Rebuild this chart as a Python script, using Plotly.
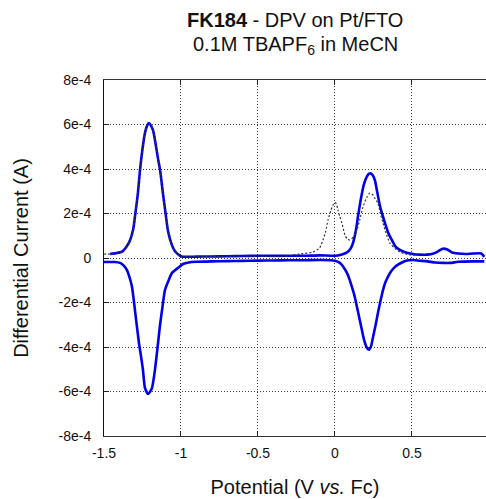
import plotly.graph_objects as go

# Forward scan (upper blue trace), current in units of 1e-4 A
forward_x = [-1.46, -1.42, -1.38, -1.35, -1.33, -1.31, -1.30, -1.28, -1.266, -1.25, -1.234, -1.22,
             -1.208, -1.195, -1.18, -1.169, -1.15, -1.136, -1.117, -1.10, -1.084, -1.06, -1.039,
             -1.01, -0.99, -0.9, -0.8, -0.7, -0.6, -0.5, -0.4, -0.3, -0.2, -0.1, 0.0, 0.04, 0.078,
             0.10, 0.117, 0.135, 0.149, 0.162, 0.175, 0.19, 0.208, 0.222, 0.234, 0.247, 0.260,
             0.275, 0.292, 0.31, 0.325, 0.345, 0.37, 0.395, 0.422, 0.46, 0.506, 0.55, 0.6, 0.64,
             0.67, 0.70, 0.73, 0.76, 0.80, 0.85, 0.90, 0.95, 0.97]
forward_y = [0.18, 0.22, 0.3, 0.55, 0.81, 1.3, 1.8, 2.9, 3.96, 4.9, 5.62, 5.95,
             6.07, 5.95, 5.70, 5.3, 4.5, 3.96, 2.9, 2.0, 1.2, 0.6, 0.3,
             0.12, 0.06, 0.06, 0.07, 0.08, 0.09, 0.1, 0.1, 0.1, 0.1, 0.12, 0.1, 0.15, 0.25,
             0.4, 0.67, 1.2, 1.84, 2.4, 2.9, 3.35, 3.67, 3.79, 3.8, 3.7, 3.48,
             2.95, 2.35, 1.9, 1.57, 1.15, 0.8, 0.5, 0.36, 0.25, 0.18, 0.15, 0.15, 0.2,
             0.3, 0.42, 0.38, 0.25, 0.2, 0.18, 0.2, 0.2, 0.05]

# Reverse scan (lower blue trace)
reverse_x = [0.97, 0.9, 0.8, 0.75, 0.70, 0.65, 0.6, 0.55, 0.506, 0.46, 0.442, 0.415, 0.39, 0.365,
             0.344, 0.327, 0.312, 0.295, 0.279, 0.263, 0.247, 0.235, 0.222, 0.208, 0.19, 0.175,
             0.16, 0.143, 0.127, 0.110, 0.094, 0.078, 0.055, 0.032, 0.0, -0.097, -0.2, -0.3, -0.4,
             -0.5, -0.6, -0.7, -0.8, -0.9, -0.95, -0.987, -1.02, -1.058, -1.08, -1.104, -1.123,
             -1.136, -1.149, -1.169, -1.188, -1.20, -1.214, -1.234, -1.247, -1.26, -1.273, -1.299,
             -1.318, -1.335, -1.351, -1.375, -1.396, -1.43, -1.461, -1.5]
reverse_y = [-0.15, -0.15, -0.17, -0.22, -0.22, -0.2, -0.15, -0.12, -0.09, -0.12, -0.18, -0.28,
             -0.40, -0.6, -0.85, -1.1, -1.44, -1.95, -2.47, -3.05, -3.56, -3.95, -4.12, -4.04,
             -3.7, -3.24, -2.75, -2.20, -1.7, -1.30, -0.95, -0.67, -0.4, -0.22, -0.12, -0.09,
             -0.1, -0.1, -0.11, -0.12, -0.13, -0.14, -0.15, -0.17, -0.2, -0.27, -0.45, -0.67,
             -1.0, -1.44, -2.34, -3.0, -3.82, -5.03, -5.84, -6.0, -6.11, -5.84, -5.03, -4.4,
             -3.82, -2.34, -1.30, -0.85, -0.54, -0.32, -0.22, -0.18, -0.18, -0.18]

# Reference measurement (dotted trace)
reference_x = [-1.5, -1.46, -1.42, -1.38, -1.35, -1.33, -1.31, -1.30, -1.28, -1.266, -1.25, -1.234,
               -1.22, -1.208, -1.195, -1.18, -1.169, -1.15, -1.136, -1.117, -1.10, -1.084, -1.06,
               -1.039, -1.01, -0.99, -0.9, -0.8, -0.7, -0.6, -0.5, -0.36, -0.227, -0.143, -0.10,
               -0.078, -0.06, -0.045, -0.028, -0.013, 0.0, 0.01, 0.019, 0.032, 0.045, 0.065, 0.08,
               0.097, 0.12, 0.143, 0.162, 0.182, 0.205, 0.227, 0.247, 0.262, 0.279, 0.295, 0.312,
               0.335, 0.357, 0.39, 0.422, 0.46, 0.506, 0.55]
reference_y = [0.18, 0.18, 0.22, 0.3, 0.55, 0.81, 1.3, 1.8, 2.9, 3.96, 4.9, 5.62,
               5.95, 6.07, 5.95, 5.70, 5.3, 4.5, 3.96, 2.9, 2.0, 1.2, 0.6,
               0.3, 0.12, 0.06, 0.06, 0.07, 0.08, 0.09, 0.08, 0.06, 0.18, 0.27, 0.45,
               0.81, 1.2, 1.71, 2.1, 2.38, 2.5, 2.42, 2.16, 1.85, 1.57, 1.03, 0.85,
               0.81, 0.95, 1.26, 1.75, 2.29, 2.7, 2.92, 2.83, 2.65, 2.47, 2.0, 1.57,
               1.05, 0.67, 0.42, 0.27, 0.18, 0.13, 0.12]

x_tick_vals = [-1.5, -1, -0.5, 0, 0.5]
x_tick_text = ["-1.5", "-1", "-0.5", "0", "0.5"]
y_tick_vals = [8e-4, 6e-4, 4e-4, 2e-4, 0, -2e-4, -4e-4, -6e-4, -8e-4]
y_tick_text = ["8e-4", "6e-4", "4e-4", "2e-4", "0", "-2e-4", "-4e-4", "-6e-4", "-8e-4"]

title_lines = ["<b>FK184</b> - DPV on Pt/FTO", "0.1M TBAPF<sub>6</sub> in MeCN"]

scale = 1e-4
blue = "#0000e8"
font_family = "Liberation Sans, Arial, sans-serif"

fig = go.Figure()
fig.add_trace(go.Scatter(x=forward_x, y=[v * scale for v in forward_y], mode="lines",
                         line=dict(color=blue, width=2.6, shape="spline", smoothing=0.6),
                         showlegend=False))
fig.add_trace(go.Scatter(x=reverse_x, y=[v * scale for v in reverse_y], mode="lines",
                         line=dict(color=blue, width=2.6, shape="spline", smoothing=0.6),
                         showlegend=False))
fig.add_trace(go.Scatter(x=reference_x, y=[v * scale for v in reference_y], mode="lines",
                         line=dict(color="#333333", width=1.2, dash="2px,2px",
                                   shape="spline", smoothing=0.6),
                         showlegend=False))

# Title lines as annotations (pixel rows ~20 and ~45 of the 499-px page)
plot_top, plot_bottom = 80, 436
for text, row in zip(title_lines, [20, 45]):
    fig.add_annotation(text=text, xref="paper", yref="paper", x=0.5,
                       y=(plot_bottom - row) / (plot_bottom - plot_top),
                       xanchor="center", yanchor="middle", showarrow=False,
                       font=dict(size=20, family=font_family, color="#111111"))

fig.update_layout(
    width=486, height=499,
    margin=dict(l=104, r=0, t=80, b=63),
    paper_bgcolor="white", plot_bgcolor="white",
    font=dict(family=font_family, color="#111111"),
    xaxis=dict(range=[-1.5, 0.981], tickvals=x_tick_vals, ticktext=x_tick_text,
               ticks="inside", ticklen=5, tickcolor="#222", mirror="ticks",
               showline=True, linecolor="#333", linewidth=1,
               showgrid=True, gridcolor="rgba(30,30,30,0.85)", griddash="1px,2px", gridwidth=1,
               zeroline=False, tickfont=dict(size=14, color="#111"),
               ticklabelstandoff=4,
               title=dict(text="Potential (V <i>vs.</i> Fc)", font=dict(size=20), standoff=20)),
    yaxis=dict(range=[-8e-4, 8e-4], tickvals=y_tick_vals, ticktext=y_tick_text,
               ticks="inside", ticklen=5, tickcolor="#222", mirror=False,
               showline=True, linecolor="#111", linewidth=1,
               showgrid=True, gridcolor="rgba(30,30,30,0.85)", griddash="1px,2px", gridwidth=1,
               zeroline=False, tickfont=dict(size=14, color="#111"),
               ticklabelstandoff=9,
               title=dict(text="Differential Current (A)", font=dict(size=20), standoff=24)),
)

fig.write_html("out.html")
